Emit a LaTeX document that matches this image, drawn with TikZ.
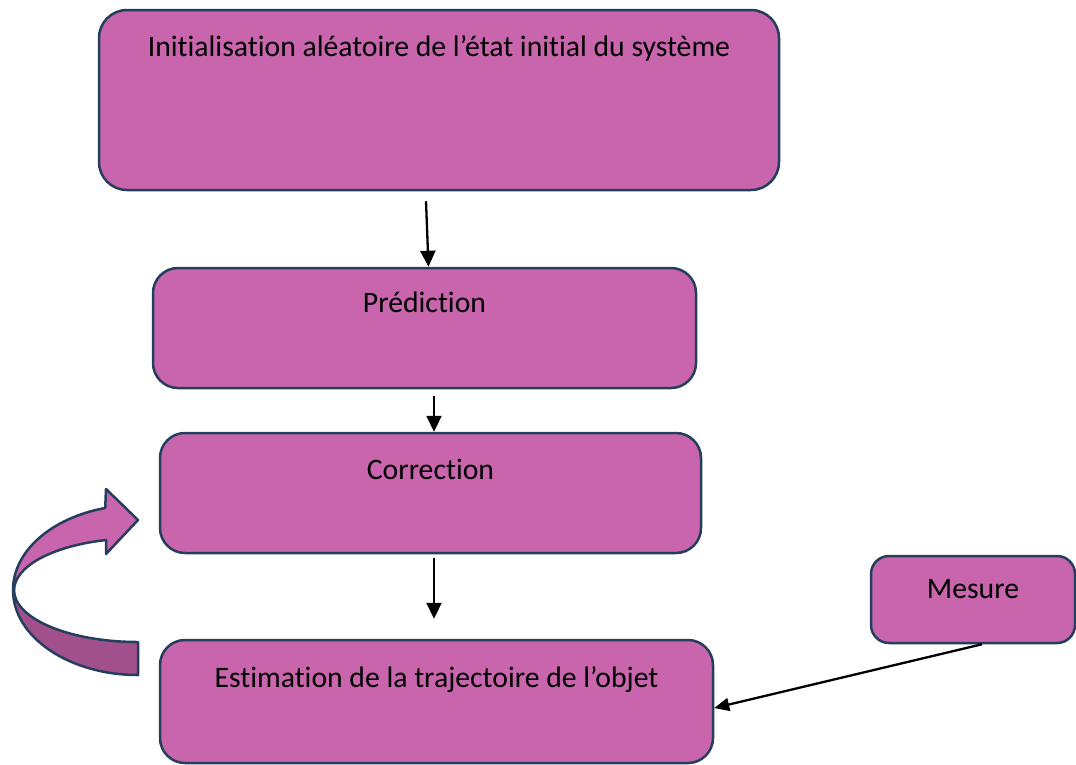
\documentclass[tikz,border=0pt]{standalone}
\usepackage{fontspec}
\setmainfont{Carlito}[Ligatures=NoCommon]
\usetikzlibrary{arrows.meta}
\definecolor{rose}{RGB}{200,101,172}
\definecolor{rosefonce}{RGB}{161,80,139}
\definecolor{bord}{RGB}{38,62,94}
\tikzset{
	bloc/.style={draw=bord, line width=2.5pt, fill=rose, rounded corners=28pt, inner sep=0pt, font=\fontsize{29.7}{35}\selectfont},
	fleche/.style={line width=2.3pt, -{Triangle[length=16pt,width=15pt]}}
}
\begin{document}
\begin{tikzpicture}[x=1pt, y=-1pt]
		%%%%% START %%%%%
		\useasboundingbox (0, 0) rectangle (1076, 764);
		
		\node[bloc, minimum width=680pt, text height=46pt, text depth=134pt] (init) at (439, 100) {Initialisation aléatoire de l’état initial du système};
		\node[bloc, minimum width=543pt, text height=44pt, text depth=76pt, rounded corners=25pt] (pred) at (424.5, 328) {Prédiction};
		\node[bloc, minimum width=541pt, text height=46pt, text depth=74pt, rounded corners=25pt] (corr) at (430.5, 493) {Correction};
		\node[bloc, minimum width=553pt, text height=47pt, text depth=76pt, rounded corners=25pt] (est) at (436.5, 701.5) {Estimation de la trajectoire de l’objet};
		\node[bloc, minimum width=204pt, text height=42pt, text depth=45pt, rounded corners=18pt] (mes) at (973, 599.5) {Mesure};
		
		\draw[fleche] ([xshift=-13pt, yshift=-10pt]init.south) -- ([xshift=4pt]pred.north);
		\coordinate (p) at ([xshift=9.5pt, yshift=-7pt]pred.south);
		\draw[fleche] (p) -- (p |- corr.north);
		\draw[fleche] ([xshift=3.5pt, yshift=-4pt]corr.south) -- ([xshift=-2.5pt, yshift=20pt]est.north);
		\draw[fleche, -{Triangle[length=15pt,width=13pt]}] ([xshift=9pt]mes.south) -- ([yshift=-6.5pt]est.east);
		
		% fleche courbe
		\draw[draw=bord, line width=2.5pt, fill=rosefonce, line join=round] (13, 590) arc[start angle=180, end angle=90, x radius=125, y radius=85] -- (138, 642) arc[start angle=90, end angle=180, x radius=124, y radius=52] -- cycle;
		\draw[draw=bord, line width=2.5pt, fill=rose, line join=round] (13, 590) arc[start angle=180, end angle=254.8, x radius=125, y radius=85] -- (106, 489) -- (138, 520) -- (106, 554) -- (106, 540) arc[start angle=255, end angle=180, x radius=124, y radius=52] -- cycle;
		%%%%% END %%%%%
	\end{tikzpicture}
\end{document}
